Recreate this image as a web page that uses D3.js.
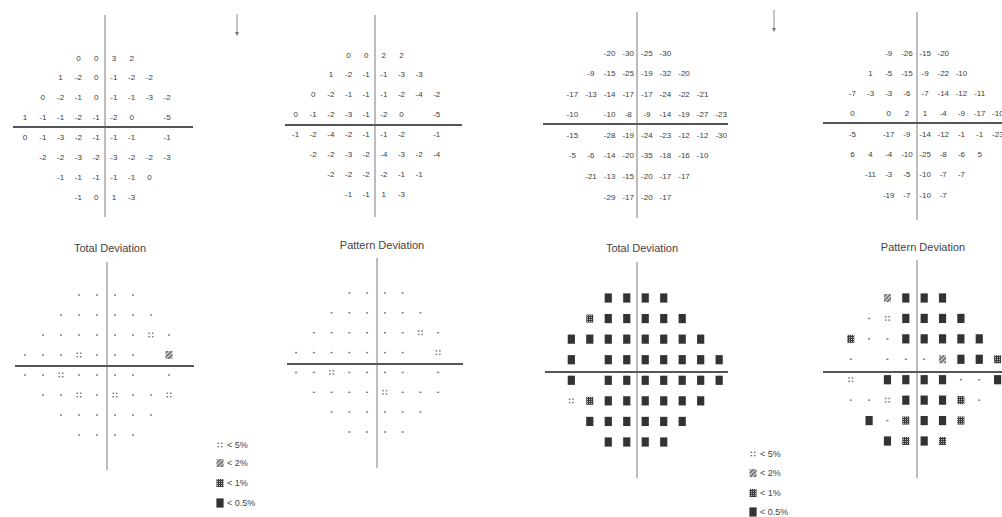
<!DOCTYPE html>
<html>
<head>
<meta charset="utf-8">
<script src="https://cdn.jsdelivr.net/npm/d3@7"></script>
<style>
  html, body { margin: 0; padding: 0; background: #fff; }
  svg { display: block; font-family: "Liberation Sans", Arial, sans-serif; }
</style>
</head>
<body>
<svg id="chart" width="1002" height="517"></svg>
<script>
// Test-point grid (degrees): one list of x positions per row, top row first
const rowY = [21, 15, 9, 3, -3, -9, -15, -21];
const rowXRight = [
  [-9, -3, 3, 9],
  [-15, -9, -3, 3, 9, 15],
  [-21, -15, -9, -3, 3, 9, 15, 21],
  [-27, -21, -15, -9, -3, 3, 9, 15, 21],
  [-27, -21, -15, -9, -3, 3, 9, 15, 21],
  [-21, -15, -9, -3, 3, 9, 15, 21],
  [-15, -9, -3, 3, 9, 15],
  [-9, -3, 3, 9]
];
const rowXLeft = [
  [-9, -3, 3, 9],
  [-15, -9, -3, 3, 9, 15],
  [-21, -15, -9, -3, 3, 9, 15, 21],
  [-21, -15, -9, -3, 3, 9, 15, 21, 27],
  [-21, -15, -9, -3, 3, 9, 15, 21, 27],
  [-21, -15, -9, -3, 3, 9, 15, 21],
  [-15, -9, -3, 3, 9, 15],
  [-9, -3, 3, 9]
];

// Deviation values in dB (null = blind spot)
const odTotal = [
  [0, 0, 3, 2],
  [1, -2, 0, -1, -2, -2],
  [0, -2, -1, 0, -1, -1, -3, -2],
  [1, -1, -1, -2, -1, -2, 0, null, -5],
  [0, -1, -3, -2, -1, -1, -1, null, -1],
  [-2, -2, -3, -2, -3, -2, -2, -3],
  [-1, -1, -1, -1, -1, 0],
  [-1, 0, 1, -3]
];
const odPattern = [
  [0, 0, 2, 2],
  [1, -2, -1, -1, -3, -3],
  [0, -2, -1, -1, -1, -2, -4, -2],
  [0, -1, -2, -3, -1, -2, 0, null, -5],
  [-1, -2, -4, -2, -1, -1, -2, null, -1],
  [-2, -2, -3, -2, -4, -3, -2, -4],
  [-2, -2, -2, -2, -1, -1],
  [-1, -1, 1, -3]
];
const osTotal = [
  [-20, -30, -25, -30],
  [-9, -15, -25, -19, -32, -20],
  [-17, -13, -14, -17, -17, -24, -22, -21],
  [-10, null, -10, -8, -9, -14, -19, -27, -23],
  [-15, null, -28, -19, -24, -23, -12, -12, -30],
  [-5, -6, -14, -20, -35, -18, -16, -10],
  [-21, -13, -15, -20, -17, -17],
  [-29, -17, -20, -17]
];
const osPattern = [
  [-9, -26, -15, -20],
  [1, -5, -15, -9, -22, -10],
  [-7, -3, -3, -6, -7, -14, -12, -11],
  [0, null, 0, 2, 1, -4, -9, -17, -10],
  [-5, null, -17, -9, -14, -12, -1, -1, -23],
  [6, 4, -4, -10, -25, -8, -6, 5],
  [-11, -3, -5, -10, -7, -7],
  [-19, -7, -10, -7]
];

// Probability levels in % (0 = within normal limits, null = blind spot)
const odTotalProb = [
  [0, 0, 0, 0],
  [0, 0, 0, 0, 0, 0],
  [0, 0, 0, 0, 0, 0, 5, 0],
  [0, 0, 0, 5, 0, 0, 0, null, 2],
  [0, 0, 5, 0, 0, 0, 0, null, 0],
  [0, 0, 5, 0, 5, 0, 0, 5],
  [0, 0, 0, 0, 0, 0],
  [0, 0, 0, 0]
];
const odPatternProb = [
  [0, 0, 0, 0],
  [0, 0, 0, 0, 0, 0],
  [0, 0, 0, 0, 0, 0, 5, 0],
  [0, 0, 0, 0, 0, 0, 0, null, 5],
  [0, 0, 5, 0, 0, 0, 0, null, 0],
  [0, 0, 0, 0, 5, 0, 0, 0],
  [0, 0, 0, 0, 0, 0],
  [0, 0, 0, 0]
];
const osTotalProb = [
  [0.5, 0.5, 0.5, 0.5],
  [1, 0.5, 0.5, 0.5, 0.5, 0.5],
  [0.5, 0.5, 0.5, 0.5, 0.5, 0.5, 0.5, 0.5],
  [0.5, null, 0.5, 0.5, 0.5, 0.5, 0.5, 0.5, 0.5],
  [0.5, null, 0.5, 0.5, 0.5, 0.5, 0.5, 0.5, 0.5],
  [5, 1, 0.5, 0.5, 0.5, 0.5, 0.5, 0.5],
  [0.5, 0.5, 0.5, 0.5, 0.5, 0.5],
  [0.5, 0.5, 0.5, 0.5]
];
const osPatternProb = [
  [2, 0.5, 0.5, 0.5],
  [0, 5, 0.5, 0.5, 0.5, 0.5],
  [1, 0, 0, 0.5, 0.5, 0.5, 0.5, 0.5],
  [0, null, 0, 0, 0, 2, 0.5, 0.5, 1],
  [5, null, 0.5, 0.5, 0.5, 0.5, 0, 0, 0.5],
  [0, 0, 5, 0.5, 0.5, 0.5, 1, 0],
  [0.5, 0, 1, 0.5, 0.5, 1],
  [0.5, 1, 0.5, 1]
];

const legendLevels = [5, 2, 1, 0.5];
const legendLabels = ["< 5%", "< 2%", "< 1%", "< 0.5%"];
const plotTitles = ["Total Deviation", "Pattern Deviation", "Total Deviation", "Pattern Deviation"];

const svg = d3.select("#chart");
const ink = "#3c3c3c";

// Fill patterns for the probability symbols
const defs = svg.append("defs");
const p1 = defs.append("pattern").attr("id", "pat1").attr("patternUnits", "userSpaceOnUse")
  .attr("width", 2).attr("height", 2);
p1.append("rect").attr("width", 2).attr("height", 2).attr("fill", "#3a3a3a");
p1.append("rect").attr("x", 1).attr("y", 1).attr("width", 1).attr("height", 1).attr("fill", "#bdbdbd");
const p2 = defs.append("pattern").attr("id", "pat2").attr("patternUnits", "userSpaceOnUse")
  .attr("width", 3).attr("height", 3).attr("patternTransform", "rotate(45)");
p2.append("rect").attr("width", 3).attr("height", 3).attr("fill", "#d6d6d6");
p2.append("rect").attr("width", 1.4).attr("height", 3).attr("fill", "#555");

function drawSymbol(g, level, x, y) {
  if (level === null) return;
  if (level === 0) {
    g.append("rect").attr("x", x - 1).attr("y", y - 0.7).attr("width", 2).attr("height", 1.4).attr("fill", "#777");
  } else if (level === 5) {
    [[-1.7, -1.7], [1.7, -1.7], [-1.7, 1.7], [1.7, 1.7]].forEach(([dx, dy]) => {
      g.append("rect").attr("x", x + dx - 0.8).attr("y", y + dy - 0.7).attr("width", 1.6).attr("height", 1.4).attr("fill", "#777");
    });
  } else if (level === 2) {
    g.append("rect").attr("x", x - 3.5).attr("y", y - 4).attr("width", 7).attr("height", 8).attr("fill", "url(#pat2)");
  } else if (level === 1) {
    g.append("rect").attr("x", x - 3.5).attr("y", y - 4).attr("width", 7).attr("height", 8).attr("fill", "url(#pat1)");
  } else {
    g.append("rect").attr("x", x - 3.6).attr("y", y - 4.6).attr("width", 7.2).attr("height", 9.2).attr("fill", "#333");
  }
}

// Panel layout: centre of the axes and spacing per degree
const panels = [
  { kind: "num", values: odTotal, xs: rowXRight, cx: 105, kx: 2.96, top: 58, bottom: 197,
    vLine: [105, 15, 217], hLine: [127, 13, 193] },
  { kind: "num", values: odPattern, xs: rowXRight, cx: 375, kx: 2.94, top: 55, bottom: 194,
    vLine: [375, 15, 217], hLine: [125, 285, 462] },
  { kind: "num", values: osTotal, xs: rowXLeft, cx: 637.5, kx: 3.1, top: 53, bottom: 197,
    vLine: [637, 12, 218], hLine: [124, 543, 728] },
  { kind: "num", values: osPattern, xs: rowXLeft, cx: 916, kx: 3.03, top: 53, bottom: 195,
    vLine: [917, 12, 220], hLine: [123, 823, 1002] },
  { kind: "sym", values: odTotalProb, xs: rowXRight, cx: 106, kx: 3.0, top: 295, bottom: 435,
    vLine: [107, 262, 470], hLine: [366, 15, 194], title: [0, 110, 248] },
  { kind: "sym", values: odPatternProb, xs: rowXRight, cx: 376, kx: 2.96, top: 293, bottom: 432,
    vLine: [377, 258, 468], hLine: [364, 287, 463], title: [1, 382, 245] },
  { kind: "sym", values: osTotalProb, xs: rowXLeft, cx: 636, kx: 3.08, top: 298, bottom: 442,
    vLine: [637, 262, 478], hLine: [372, 545, 728], title: [2, 642, 248] },
  { kind: "sym", values: osPatternProb, xs: rowXLeft, cx: 915, kx: 3.06, top: 298, bottom: 441,
    vLine: [917, 260, 478], hLine: [372, 823, 1002], title: [3, 923, 247] }
];

panels.forEach(p => {
  const g = svg.append("g");
  const x = d3.scaleLinear().domain([-27, 27]).range([p.cx - 27 * p.kx, p.cx + 27 * p.kx]);
  const y = d3.scaleLinear().domain([21, -21]).range([p.top, p.bottom]);

  g.append("line").attr("x1", p.vLine[0]).attr("x2", p.vLine[0]).attr("y1", p.vLine[1]).attr("y2", p.vLine[2])
    .attr("stroke", "#7a7a7a").attr("stroke-width", 1);
  g.append("line").attr("x1", p.hLine[1]).attr("x2", p.hLine[2]).attr("y1", p.hLine[0]).attr("y2", p.hLine[0])
    .attr("stroke", "#555").attr("stroke-width", 2);

  if (p.title) {
    g.append("text").attr("x", p.title[1]).attr("y", p.title[2]).attr("text-anchor", "middle")
      .attr("dominant-baseline", "central").attr("font-size", 11).attr("fill", "#444")
      .text(plotTitles[p.title[0]]);
  }

  p.values.forEach((row, r) => {
    row.forEach((v, c) => {
      const px = x(p.xs[r][c]), py = y(rowY[r]);
      if (p.kind === "num") {
        if (v === null) return;
        g.append("text").attr("x", px).attr("y", py).attr("text-anchor", "middle")
          .attr("dominant-baseline", "central").attr("font-size", 8).attr("fill", ink)
          .text(String(v));
      } else {
        drawSymbol(g, v, px, py);
      }
    });
  });
});

// Fixation markers
[[237, 14, 36], [774, 10, 32]].forEach(([ax, y1, y2]) => {
  svg.append("line").attr("x1", ax).attr("x2", ax).attr("y1", y1).attr("y2", y2 - 3)
    .attr("stroke", "#888").attr("stroke-width", 1);
  svg.append("path").attr("d", `M${ax - 2},${y2 - 4} L${ax + 2},${y2 - 4} L${ax},${y2} Z`).attr("fill", "#777");
});

// Symbol legends
[[220, [445, 463, 483, 503]], [753, [454, 473, 493, 512]]].forEach(([lx, ys]) => {
  const g = svg.append("g");
  legendLevels.forEach((lvl, i) => {
    drawSymbol(g, lvl, lx, ys[i]);
    g.append("text").attr("x", lx + 7).attr("y", ys[i]).attr("dominant-baseline", "central")
      .attr("font-size", 9).attr("fill", "#444").text(legendLabels[i]);
  });
});
</script>
</body>
</html>
